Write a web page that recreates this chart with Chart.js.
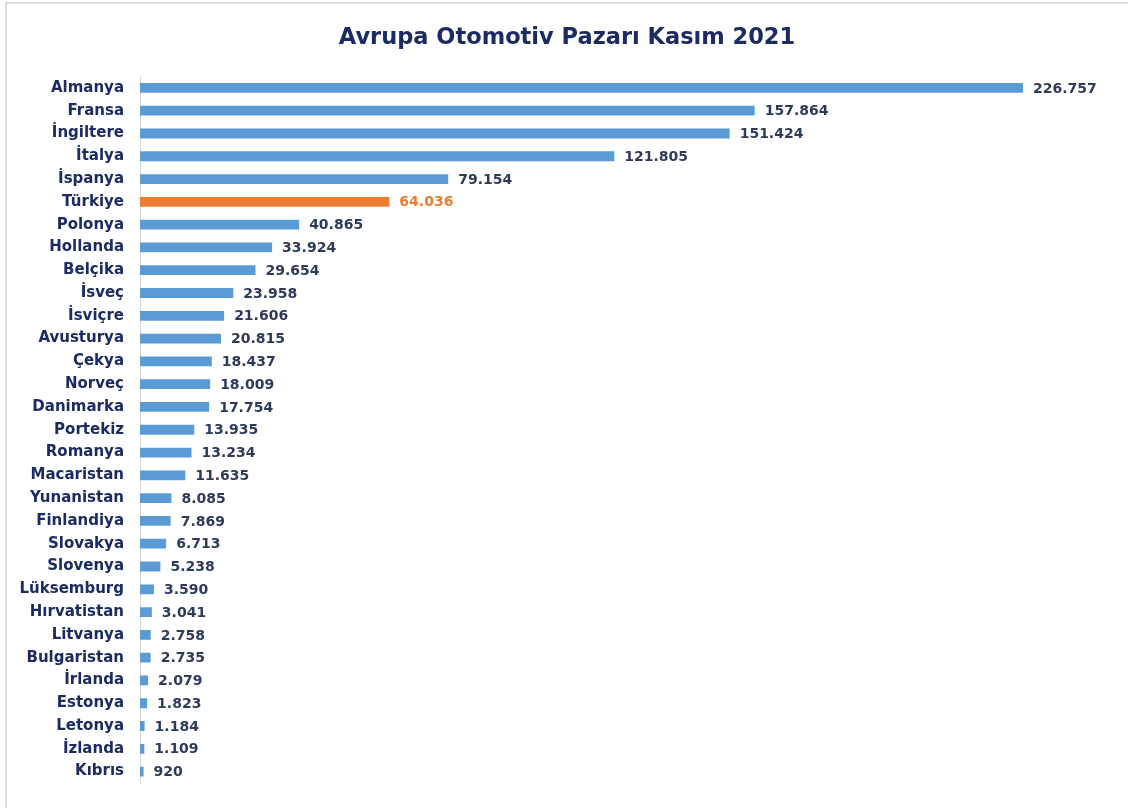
<!DOCTYPE html>
<html lang="tr">
<head>
<meta charset="utf-8">
<title>Avrupa Otomotiv Pazarı Kasım 2021</title>
<script src="https://cdn.jsdelivr.net/npm/chart.js@4/dist/chart.umd.min.js"></script>
<style>
  html, body { margin: 0; padding: 0; background: #fff; overflow: hidden; width: 1128px; height: 808px; }
  #frame {
    position: absolute; left: 5px; top: 2px; width: 1200px; height: 900px;
    box-sizing: border-box;
    border-top: 2px solid #dcdcdc; border-left: 2px solid #dcdcdc;
  }
  #wrap { position: absolute; left: 0; top: 0; width: 1128px; height: 808px; }
</style>
</head>
<body>
<div id="frame"></div>
<div id="wrap"><canvas id="chart"></canvas></div>
<script>
const title = "Avrupa Otomotiv Pazarı Kasım 2021";

const countries = [
  "Almanya", "Fransa", "İngiltere", "İtalya", "İspanya", "Türkiye", "Polonya",
  "Hollanda", "Belçika", "İsveç", "İsviçre", "Avusturya", "Çekya", "Norveç",
  "Danimarka", "Portekiz", "Romanya", "Macaristan", "Yunanistan", "Finlandiya",
  "Slovakya", "Slovenya", "Lüksemburg", "Hırvatistan", "Litvanya", "Bulgaristan",
  "İrlanda", "Estonya", "Letonya", "İzlanda", "Kıbrıs"
];

const sales = [
  226757, 157864, 151424, 121805, 79154, 64036, 40865,
  33924, 29654, 23958, 21606, 20815, 18437, 18009,
  17754, 13935, 13234, 11635, 8085, 7869,
  6713, 5238, 3590, 3041, 2758, 2735,
  2079, 1823, 1184, 1109, 920
];

const highlight = "Türkiye";

const blue = "#5b9bd5";
const orange = "#ed7d31";
const navy = "#1c2b63";
const valueColor = "#2e3a5c";
const fontFamily = "'DejaVu Sans', sans-serif";

const fmt = v => v.toLocaleString("de-DE");

// value label at the end of each bar, plus the heading
const barLabels = {
  id: "barLabels",
  afterDatasetsDraw(chart) {
    const ctx = chart.ctx;
    const meta = chart.getDatasetMeta(0);
    ctx.save();
    ctx.font = "bold 14px " + fontFamily;
    ctx.textBaseline = "middle";
    ctx.textAlign = "left";
    meta.data.forEach((bar, i) => {
      ctx.fillStyle = countries[i] === highlight ? orange : valueColor;
      ctx.fillText(fmt(sales[i]), bar.x + 10, bar.y + 1);
    });
    ctx.font = "bold 22.5px " + fontFamily;
    ctx.fillStyle = navy;
    ctx.textAlign = "center";
    ctx.fillText(title, 567, 38);
    ctx.restore();
  }
};

new Chart(document.getElementById("chart"), {
  type: "bar",
  data: {
    labels: countries,
    datasets: [{
      data: sales,
      backgroundColor: countries.map(c => c === highlight ? orange : blue),
      barPercentage: 0.43,
      categoryPercentage: 1
    }]
  },
  options: {
    indexAxis: "y",
    responsive: true,
    maintainAspectRatio: false,
    animation: false,
    layout: { padding: { top: 76.5, bottom: 17.5, left: 0, right: 14.5 } },
    plugins: {
      legend: { display: false },
      title: { display: false },
      tooltip: { enabled: false }
    },
    scales: {
      x: {
        display: false,
        min: 0,
        max: 250000
      },
      y: {
        afterFit(scale) { scale.width = 140; },
        grid: { display: false, drawTicks: false },
        border: { display: true, color: "#d9d9d9", width: 1 },
        ticks: {
          padding: 16,
          color: navy,
          font: { family: fontFamily, size: 15, weight: "bold" }
        }
      }
    }
  },
  plugins: [barLabels]
});
</script>
</body>
</html>
